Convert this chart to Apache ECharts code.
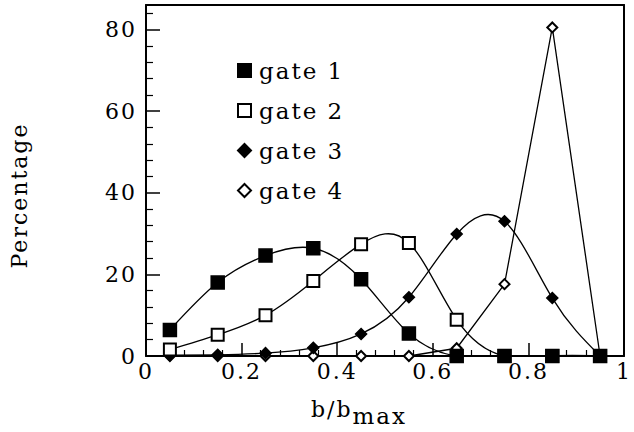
<!DOCTYPE html>
<html>
<head>
<meta charset="utf-8">
<script src="https://cdn.jsdelivr.net/npm/echarts@6/dist/echarts.min.js"></script>
<style>
html,body{margin:0;padding:0;background:#fff}
#c{width:634px;height:432px}
#c svg text{letter-spacing:2px}
</style>
</head>
<body>
<div id="c"></div>
<script>
const xVals = [0.05, 0.15, 0.25, 0.35, 0.45, 0.55, 0.65, 0.75, 0.85, 0.95];
const gate1 = [6.4, 18.0, 24.6, 26.4, 18.8, 5.5, 0, 0, 0, 0];
const gate2 = [1.6, 5.2, 10.0, 18.4, 27.4, 27.7, 8.9, 0, 0, 0];
const gate3 = [0.2, 0.3, 0.7, 2.0, 5.4, 14.4, 29.9, 33.0, 14.2, 0];
const gate4 = [0, 0, 0, 0, 0, 0, 1.9, 17.6, 80.5, 0];
const seriesNames = ['gate 1', 'gate 2', 'gate 3', 'gate 4'];
const xTicks = [0, 0.2, 0.4, 0.6, 0.8, 1];
const yTicks = [0, 20, 40, 60, 80];

const font = 'DejaVu Serif';
function pairs(arr) { return xVals.map((x, i) => [x, arr[i]]); }

// natural cubic spline through pixel points -> SVG path (bezier segments)
function splinePath(pts) {
  const n = pts.length;
  const M = new Array(n).fill(0);
  if (n > 2) {
    const a = [], b = [], c = [], d = [];
    for (let i = 1; i < n - 1; i++) {
      const h0 = pts[i][0] - pts[i - 1][0], h1 = pts[i + 1][0] - pts[i][0];
      a.push(h0); b.push(2 * (h0 + h1)); c.push(h1);
      d.push(6 * ((pts[i + 1][1] - pts[i][1]) / h1 - (pts[i][1] - pts[i - 1][1]) / h0));
    }
    const m = b.length;
    for (let i = 1; i < m; i++) {
      const w = a[i] / b[i - 1];
      b[i] -= w * c[i - 1]; d[i] -= w * d[i - 1];
    }
    const sol = new Array(m);
    sol[m - 1] = d[m - 1] / b[m - 1];
    for (let i = m - 2; i >= 0; i--) sol[i] = (d[i] - c[i] * sol[i + 1]) / b[i];
    for (let i = 0; i < m; i++) M[i + 1] = sol[i];
  }
  let p = 'M' + pts[0][0] + ' ' + pts[0][1];
  for (let i = 0; i < n - 1; i++) {
    const h = pts[i + 1][0] - pts[i][0];
    const dd = (pts[i + 1][1] - pts[i][1]) / h;
    const s0 = dd - h * (2 * M[i] + M[i + 1]) / 6;
    const s1 = dd + h * (M[i] + 2 * M[i + 1]) / 6;
    p += ' C' + (pts[i][0] + h / 3) + ' ' + (pts[i][1] + s0 * h / 3) + ' ' +
         (pts[i + 1][0] - h / 3) + ' ' + (pts[i + 1][1] - s1 * h / 3) + ' ' +
         pts[i + 1][0] + ' ' + pts[i + 1][1];
  }
  return p;
}

function curve(arr) {
  return {
    type: 'custom', data: pairs(arr), clip: true, silent: true, z: 2,
    encode: {x: 0, y: 1},
    renderItem: (params, api) => {
      if (params.dataIndex !== 0) return null;
      const pts = xVals.map((x, i) => api.coord([x, arr[i]]));
      return {type: 'path', shape: {pathData: splinePath(pts)},
        style: {fill: 'none', stroke: '#000', lineWidth: 1.3}};
    }
  };
}

const mk = (name, data, symbol, size, showLine) => ({
  name, type: 'line', data: pairs(data), symbol, symbolSize: size,
  showAllSymbol: true, z: 3,
  lineStyle: {color: '#000', width: showLine ? 1.3 : 0, opacity: showLine ? 1 : 0},
  itemStyle: {color: '#000', borderColor: '#000', borderWidth: 1.5},
  emphasis: {disabled: true}
});

const chart = echarts.init(document.getElementById('c'), null, {renderer: 'svg'});
chart.setOption({
  animation: false,
  backgroundColor: '#fff',
  grid: {left: 146, top: 5, right: 4, bottom: 76, show: false},
  legend: {
    orient: 'vertical', left: 237, top: 59, padding: 0, itemGap: 17, itemWidth: 13, itemHeight: 13,
    textStyle: {fontFamily: font, fontSize: 23, color: '#000', lineHeight: 23, padding: [0, 0, 0, 3]},
    data: [
      {name: seriesNames[0], icon: 'rect'},
      {name: seriesNames[1], icon: 'emptyRect'},
      {name: seriesNames[2], icon: 'diamond'},
      {name: seriesNames[3], icon: 'emptyDiamond'}
    ]
  },
  xAxis: [{
    type: 'value', min: 0, max: 1, interval: 0.2,
    name: '{a|b/b}{b|max}', nameLocation: 'middle', nameGap: 36,
    nameTextStyle: {padding: [0, 52, 0, 0], rich: {
      a: {fontFamily: font, fontSize: 22, color: '#000', padding: [0, 6, 0, 0]},
      b: {fontFamily: font, fontSize: 23, color: '#000', padding: [12, 0, 0, 0]}
    }},
    axisLine: {lineStyle: {color: '#000', width: 2}},
    axisTick: {inside: true, length: 13, lineStyle: {color: '#000', width: 1.5}},
    minorTick: {show: true, splitNumber: 5, length: 6, lineStyle: {color: '#000', width: 1.2}},
    splitLine: {show: false},
    axisLabel: {fontFamily: font, fontSize: 22, color: '#000', margin: 4,
      formatter: v => (xTicks.includes(Math.round(v * 10) / 10) ? String(Math.round(v * 10) / 10) : '')}
  }, {
    type: 'value', min: 0, max: 1, position: 'top',
    axisLine: {show: true, onZero: false, lineStyle: {color: '#000', width: 2}},
    axisTick: {show: false}, axisLabel: {show: false}, splitLine: {show: false}
  }],
  yAxis: [{
    type: 'value', min: 0, max: 86, interval: 20,
    name: 'Percentage', nameLocation: 'middle', nameGap: 116,
    nameTextStyle: {fontFamily: font, fontSize: 22, color: '#000', padding: [0, 30, 0, 0]},
    axisLine: {lineStyle: {color: '#000', width: 2}},
    axisTick: {inside: true, length: 14, lineStyle: {color: '#000', width: 1.5}},
    minorTick: {show: true, splitNumber: 5, length: 7, lineStyle: {color: '#000', width: 1.2}},
    splitLine: {show: false},
    axisLabel: {fontFamily: font, fontSize: 22, color: '#000', margin: 9,
      formatter: v => (yTicks.includes(v) ? String(v) : '')}
  }, {
    type: 'value', min: 0, max: 86, position: 'right',
    axisLine: {show: true, onZero: false, lineStyle: {color: '#000', width: 2}},
    axisTick: {show: false}, axisLabel: {show: false}, splitLine: {show: false}
  }],
  series: [
    curve(gate3), curve(gate2), curve(gate1),
    mk(seriesNames[3], gate4, 'emptyDiamond', 10, true),
    mk(seriesNames[2], gate3, 'diamond', 11, false),
    mk(seriesNames[1], gate2, 'emptyRect', 12, false),
    mk(seriesNames[0], gate1, 'rect', 13, false)
  ]
});
</script>
</body>
</html>
